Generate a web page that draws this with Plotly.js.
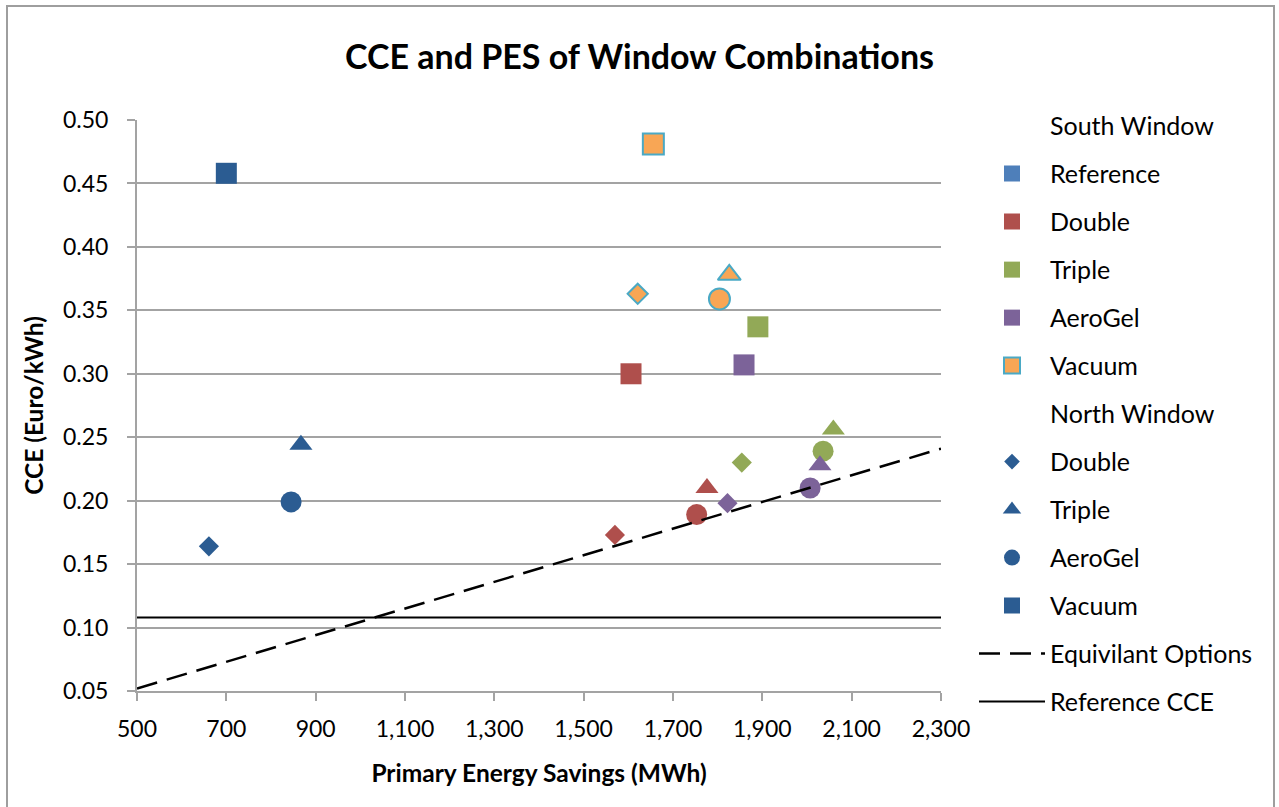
<!DOCTYPE html>
<html>
<head>
<meta charset="utf-8">
<script src="https://cdn.plot.ly/plotly-3.0.1.min.js"></script>
<style>
  html, body { margin: 0; padding: 0; background: #ffffff; }
  #chart { width: 1279px; height: 807px; }
</style>
</head>
<body>
<div id="chart"></div>
<script>
// Marker colour = south window glazing, marker shape = north window glazing
const southTypes = ['Reference', 'Double', 'Triple', 'AeroGel', 'Vacuum'];
const northTypes = ['Double', 'Triple', 'AeroGel', 'Vacuum'];

// Primary energy savings (MWh) and CCE (Euro/kWh), one value per north option
const pesReference = [661, 867, 845, 700];
const cceReference = [0.164, 0.244, 0.199, 0.458];
const pesDouble    = [1570, 1776, 1753, 1606];
const cceDouble    = [0.173, 0.210, 0.189, 0.300];
const pesTriple    = [1854, 2059, 2036, 1890];
const cceTriple    = [0.230, 0.256, 0.239, 0.337];
const pesAeroGel   = [1822, 2029, 2007, 1859];
const cceAeroGel   = [0.198, 0.228, 0.210, 0.307];
const pesVacuum    = [1621, 1826, 1804, 1656];
const cceVacuum    = [0.363, 0.378, 0.359, 0.481];

// Break-even ("equivalent") line and the reference CCE level
const equivPes = [500, 2300];
const equivCce = [0.052, 0.241];
const refPes = [500, 2300];
const refCce = [0.108, 0.108];

// Axis ticks
const xTicks = [500, 700, 900, 1100, 1300, 1500, 1700, 1900, 2100, 2300];
const yTicks = [0.05, 0.10, 0.15, 0.20, 0.25, 0.30, 0.35, 0.40, 0.45, 0.50];

const FONT = 'Lato, "Open Sans", "DejaVu Sans", sans-serif';
const INK = '#000000';
const GRID = '#A3A3A3';
const DASH = '21px,10px';

const southStyle = {
  Reference: { fill: '#2B5C92', edge: '#2B5C92', edgeW: 0, key: '#4E7FBA' },
  Double:    { fill: '#AF4F4C', edge: '#AF4F4C', edgeW: 0, key: '#AF4F4C' },
  Triple:    { fill: '#92A957', edge: '#92A957', edgeW: 0, key: '#92A957' },
  AeroGel:   { fill: '#7C6399', edge: '#7C6399', edgeW: 0, key: '#7C6399' },
  Vacuum:    { fill: '#F8A655', edge: '#4AA9C5', edgeW: 2, key: '#F8A655' }
};
const northSymbol = { Double: 'diamond', Triple: 'triangle-up', AeroGel: 'circle', Vacuum: 'square' };
const northSize   = { Double: 15.5, Triple: 20, AeroGel: 21, Vacuum: 21 };

const seriesData = {
  Reference: [pesReference, cceReference],
  Double:    [pesDouble, cceDouble],
  Triple:    [pesTriple, cceTriple],
  AeroGel:   [pesAeroGel, cceAeroGel],
  Vacuum:    [pesVacuum, cceVacuum]
};

const traces = [];

// Data points
southTypes.forEach(s => {
  const st = southStyle[s];
  traces.push({
    type: 'scatter', mode: 'markers',
    x: seriesData[s][0], y: seriesData[s][1],
    name: s, showlegend: false,
    marker: {
      color: st.fill, opacity: 1,
      symbol: northTypes.map(n => northSymbol[n]),
      size: northTypes.map(n => northSize[n]),
      line: { color: st.edge, width: st.edgeW }
    },
    hovertemplate: s + ' south<br>%{x:,} MWh<br>%{y:.3f} Euro/kWh<extra></extra>'
  });
});

// Lines
traces.push({
  type: 'scatter', mode: 'lines', x: equivPes, y: equivCce,
  name: 'Equivilant Options', showlegend: false,
  line: { color: INK, width: 2.5, dash: DASH }
});
traces.push({
  type: 'scatter', mode: 'lines', x: refPes, y: refCce,
  name: 'Reference CCE', showlegend: false,
  line: { color: INK, width: 2 }
});

// Legend key entries
let g = 0;
function key(name, marker, line) {
  const t = {
    type: 'scatter', x: [null], y: [null], name: name,
    legendgroup: 'k' + (g++), showlegend: true, hoverinfo: 'skip'
  };
  if (line) { t.mode = 'lines'; t.line = line; }
  else { t.mode = 'markers'; t.marker = marker; }
  traces.push(t);
}
key('South Window', { color: 'rgba(0,0,0,0)', size: 1 });
southTypes.forEach(s => {
  const st = southStyle[s];
  key(s, { symbol: 'square', size: 16, opacity: 1, color: st.key,
           line: { color: st.edgeW ? st.edge : st.key, width: st.edgeW } });
});
key('North Window', { color: 'rgba(0,0,0,0)', size: 1 });
northTypes.forEach(n => {
  key(n, { symbol: northSymbol[n], size: n === 'Double' ? 12 : 16, opacity: 1,
           color: southStyle.Reference.fill, line: { width: 0 } });
});
key('Equivilant Options', null, { color: INK, width: 2.5, dash: DASH });
key('Reference CCE', null, { color: INK, width: 2 });

const layout = {
  width: 1279, height: 807,
  margin: { l: 137, r: 338, t: 120, b: 116 },
  paper_bgcolor: '#ffffff', plot_bgcolor: '#ffffff',
  font: { family: FONT, color: INK, size: 23 },
  title: {
    text: 'CCE and PES of Window Combinations',
    font: { family: FONT, size: 34, weight: 'bold', color: INK },
    x: 0.5, xref: 'container', xanchor: 'center',
    y: 1 - 57 / 807, yref: 'container', yanchor: 'middle'
  },
  xaxis: {
    range: [500, 2300], tickvals: xTicks, tickformat: ',d',
    ticks: 'outside', ticklen: 8, tickwidth: 2, tickcolor: GRID,
    showline: true, linecolor: GRID, linewidth: 2,
    showgrid: false, zeroline: false,
    tickfont: { family: FONT, size: 23, color: INK },
    ticklabelstandoff: 8,
    title: { text: 'Primary Energy Savings (MWh)', font: { family: FONT, size: 24.5, weight: 'bold', color: INK }, standoff: 24 }
  },
  yaxis: {
    range: [0.05, 0.50], tickvals: yTicks, tickformat: '.2f',
    ticks: 'outside', ticklen: 8, tickwidth: 2, tickcolor: GRID,
    showline: true, linecolor: GRID, linewidth: 2,
    showgrid: true, gridcolor: GRID, gridwidth: 2, zeroline: false,
    tickfont: { family: FONT, size: 23, color: INK },
    ticklabelstandoff: 14,
    title: { text: 'CCE (Euro/kWh)', font: { family: FONT, size: 24.5, weight: 'bold', color: INK }, standoff: 12 }
  },
  legend: {
    x: (974 - 137) / 804, xanchor: 'left',
    y: 1.03, yanchor: 'top',
    font: { family: FONT, size: 25, color: INK },
    itemwidth: 66, tracegroupgap: 12.5,
    maxheight: 780,
    bgcolor: 'rgba(0,0,0,0)', borderwidth: 0
  },
  shapes: [{
    type: 'rect', xref: 'paper', yref: 'paper', layer: 'below',
    x0: (7 - 137) / 804, x1: (1274 - 137) / 804,
    y0: (691 - 815) / 571, y1: (691 - 6) / 571,
    line: { color: '#9E9E9E', width: 2 }, fillcolor: 'rgba(0,0,0,0)'
  }],
  showlegend: true,
  hovermode: 'closest'
};

Plotly.newPlot('chart', traces, layout, { displayModeBar: false, responsive: false });
</script>
</body>
</html>
